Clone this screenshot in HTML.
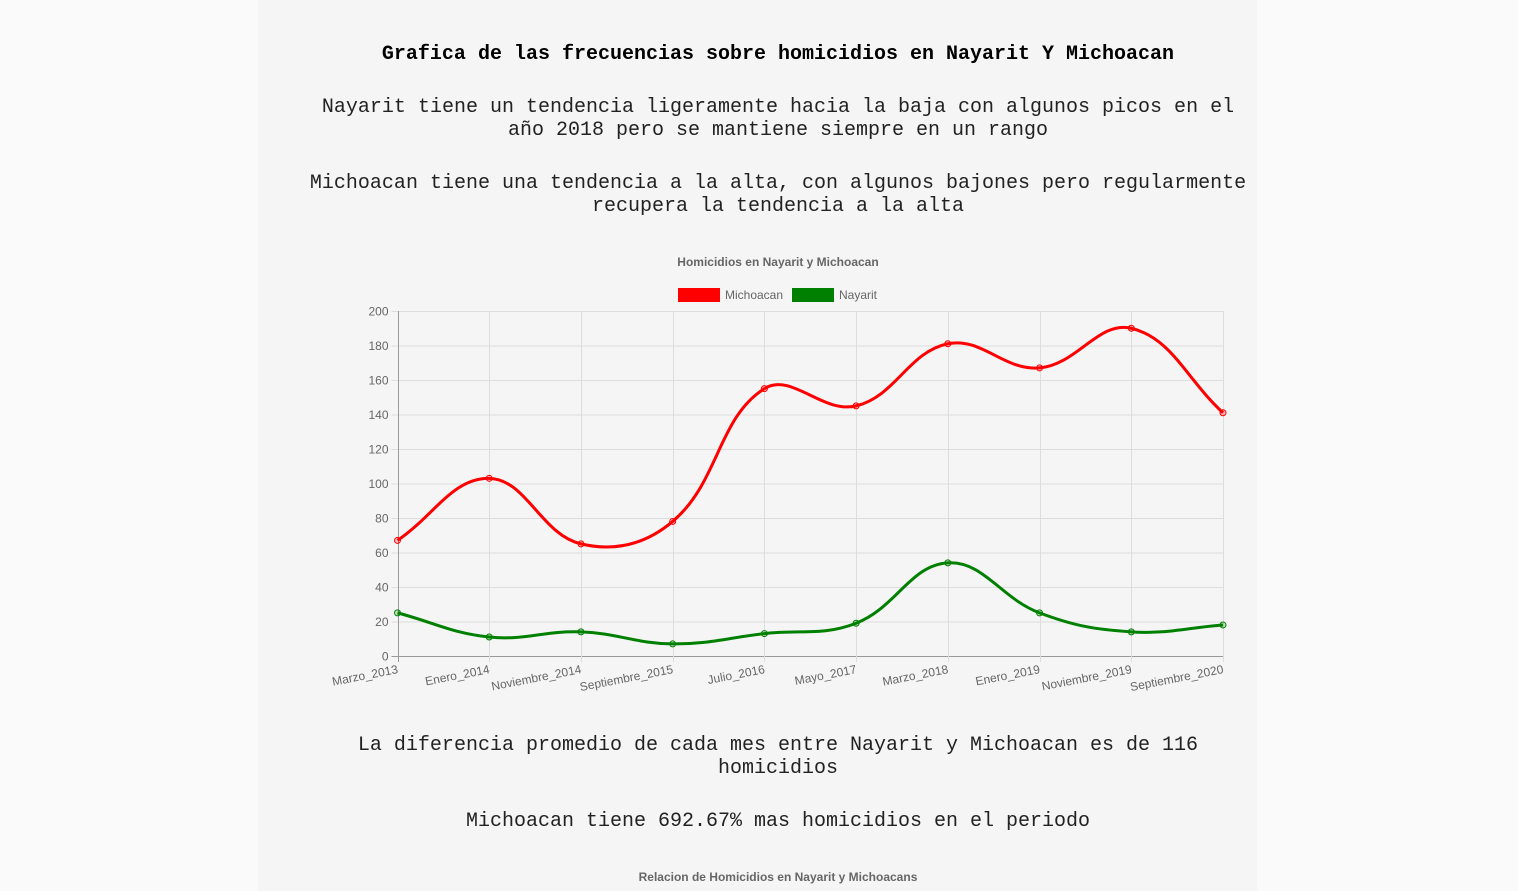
<!DOCTYPE html>
<html><head><meta charset="utf-8">
<style>
html,body{margin:0;padding:0;width:1518px;height:891px;overflow:hidden;background:#fafafa;}
.card{position:absolute;left:258px;top:0;width:999px;height:891px;background:#f5f5f5;border-radius:0 0 0 0;}
.t{position:absolute;left:298px;width:960px;text-align:center;font-family:"Liberation Mono","Courier New",monospace;font-size:20px;line-height:23px;color:#222;}
.b{font-weight:bold;color:#000;}
svg text{font-family:"Liberation Sans",Arial,sans-serif;}
</style></head><body>
<div class="card"></div>
<div class="t b" style="top:43px">Grafica de las frecuencias sobre homicidios en Nayarit Y Michoacan</div>
<div class="t" style="top:96px">Nayarit tiene un tendencia ligeramente hacia la baja con algunos picos en el<br>año 2018 pero se mantiene siempre en un rango</div>
<div class="t" style="top:172px;left:288px;width:980px">Michoacan tiene una tendencia a la alta, con algunos bajones pero regularmente<br>recupera la tendencia a la alta</div>
<div class="t" style="top:734px">La diferencia promedio de cada mes entre Nayarit y Michoacan es de 116<br>homicidios</div>
<div class="t" style="top:810px">Michoacan tiene 692.67% mas homicidios en el periodo</div>
<div style="position:absolute;left:298px;width:960px;top:870px;text-align:center;font:bold 12px 'Liberation Sans',Arial,sans-serif;color:#666">Relacion de Homicidios en Nayarit y Michoacans</div>
<svg id="chart" width="1518" height="891" style="position:absolute;left:0;top:0"></svg>
<script>
const categories=["Marzo_2013","Enero_2014","Noviembre_2014","Septiembre_2015","Julio_2016","Mayo_2017","Marzo_2018","Enero_2019","Noviembre_2019","Septiembre_2020"];
const michoacan=[67,103,65,78,155,145,181,167,190,141];
const nayarit=[25,11,14,7,13,19,54,25,14,18];
const yTicks=[0,20,40,60,80,100,120,140,160,180,200];
const seriesNames=["Michoacan","Nayarit"];
const NS="http://www.w3.org/2000/svg";
const svg=document.getElementById('chart');
const L=397.5,R=1223,T=311,B=656,YMAX=200;
function xs(i){return L+(R-L)*i/(categories.length-1);}
function ys(v){return B-(B-T)*v/YMAX;}
function mk(tag,attrs,parent){const e=document.createElementNS(NS,tag);for(const k in attrs)e.setAttribute(k,attrs[k]);(parent||svg).appendChild(e);return e;}
let tt=mk('text',{x:778,y:266,'text-anchor':'middle','font-size':12,'font-weight':'bold',fill:'#666'});tt.textContent="Homicidios en Nayarit y Michoacan";


const lg=[{x:678,c:'red',n:seriesNames[0]},{x:792,c:'green',n:seriesNames[1]}];
lg.forEach(o=>{const g=mk('g',{});


mk('rect',{x:o.x,y:288,width:42,height:14,fill:o.c},g);
const t=mk('text',{x:o.x+47,y:299,'font-size':12,fill:'#666'},g);t.textContent=o.n;});
yTicks.forEach(v=>{const y=ys(v)+0.5;
const l=mk('line',{x1:L-6,x2:R,y1:y,y2:y,stroke:v===0?'#999':'#ddd','stroke-width':1});


const t=mk('text',{x:L-9,y:y+4,'text-anchor':'end','font-size':12,fill:'#666'});t.textContent=v;

});
categories.forEach((c,i)=>{const x=Math.round(xs(i))+0.5;
const l=mk('line',{x1:x,x2:x,y1:T,y2:B+6,stroke:i===0?'#999':'#ddd','stroke-width':1});


const t=mk('text',{x:0,y:0,'text-anchor':'end','font-size':12,fill:'#666',transform:`translate(${xs(i)+1},${B+17}) rotate(-11)`});t.textContent=c;

});
function path(vals){const p=vals.map((v,i)=>({x:xs(i),y:ys(v)}));const t=0.4;const cps=p.map((cur,i)=>{const prev=p[i-1]||cur,next=p[i+1]||cur;
const d01=Math.hypot(cur.x-prev.x,cur.y-prev.y),d12=Math.hypot(next.x-cur.x,next.y-cur.y);
let s01=d01/(d01+d12)||0,s12=d12/(d01+d12)||0;const fa=t*s01,fb=t*s12;
return {p:{x:cur.x-fa*(next.x-prev.x),y:Math.min(B,Math.max(T,cur.y-fa*(next.y-prev.y)))},n:{x:cur.x+fb*(next.x-prev.x),y:Math.min(B,Math.max(T,cur.y+fb*(next.y-prev.y)))}};});
let d=`M${p[0].x},${p[0].y}`;for(let i=1;i<p.length;i++){d+=` C${cps[i-1].n.x},${cps[i-1].n.y} ${cps[i].p.x},${cps[i].p.y} ${p[i].x},${p[i].y}`;}return d;}
[[michoacan,'red','rgba(255,0,0,0.2)','michoacan'],[nayarit,'green','rgba(0,128,0,0.2)','nayarit']].forEach(([vals,c,f,n])=>{
const pa=mk('path',{d:path(vals),fill:'none',stroke:c,'stroke-width':3});


vals.forEach((v,i)=>{const ci=mk('circle',{cx:xs(i),cy:ys(v),r:3,fill:f,stroke:c,'stroke-width':1});

});});
</script>
</body></html>
